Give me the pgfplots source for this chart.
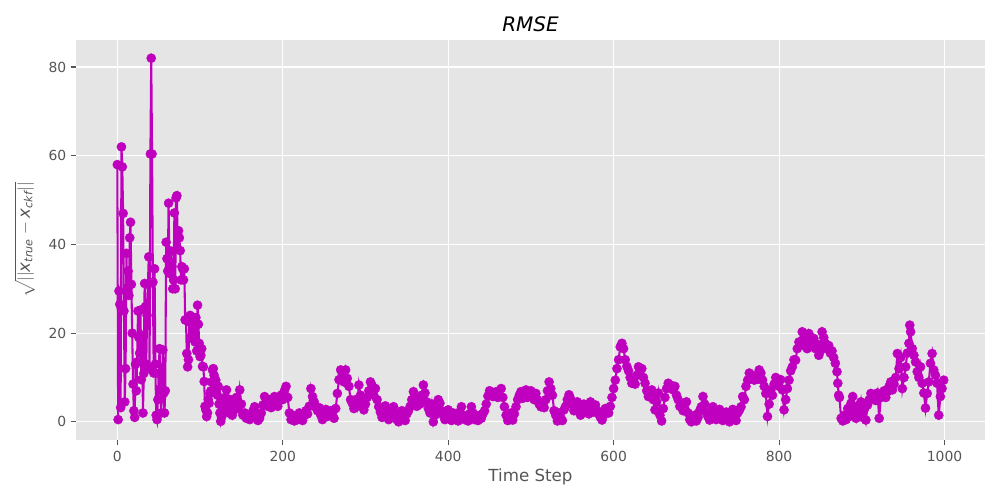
\documentclass[border=0pt]{standalone}
\usepackage{pgfplots}
\pgfplotsset{compat=1.18}
\usepackage{pgfplotstable}
\usepackage{amsmath}
\usepackage{fontspec}
\setmainfont{DejaVu Sans}
\definecolor{mag}{HTML}{BF00BF}
\definecolor{bg}{HTML}{E5E5E5}
\definecolor{txt}{HTML}{555555}
\pgfplotstableread{
x y
0 58
1 0.5
2 29.5
3 26.5
4 3.2
5 62
6 57.5
7 47
8 25
9 4.5
10 12
11 38
12 29
13 34
14 28.5
15 41.5
16 45
17 31
18 20
19 8.5
20 2.5
21 1
22 13
23 7
24 13.5
25 25
26 19
27 15.5
28 25.2
29 9.5
30 19.5
31 2
32 10.9
33 31.2
34 26
35 13
36 24
37 31
38 37.2
39 12
40 60.4
41 82
42 60.4
43 31.5
44 11
45 34.5
46 13
47 1.5
48 0.5
49 5
50 10.9
51 16.5
52 11
53 2
54 7
55 16.2
56 6.4
57 2
58 7
59 40.5
60 36.8
61 34
62 49.3
63 36
64 33.4
65 38.5
66 35
67 30
68 32
69 47.1
70 30
71 50.5
72 51
73 39
74 43.1
75 41.5
76 38.6
77 32
78 35
79 34.5
80 32
81 34.5
82 23
83 22.9
84 15.4
85 12.4
86 14
87 22.5
88 24
89 19
90 23.7
91 21
92 21.4
93 19.5
94 18
95 23.5
96 16
97 26.3
98 22
99 17.7
100 14.7
101 15
102 16.5
103 12.5
104 12.4
105 9.1
106 3.5
107 2.7
108 1.2
109 2
110 5
111 4.2
112 6.4
113 7
114 9
115 11.7
116 12
117 10.5
118 8.5
119 9.4
120 7.2
121 6
122 8
123 4
124 2
125 0.1
126 1
127 3
128 5
129 3.5
130 4.5
131 5.5
132 7.2
133 4
134 3
135 2
136 3.5
137 5
138 2.5
139 1.5
140 2.5
142 4
144 5.5
146 3
148 7.2
150 4
152 1.5
154 2
156 0.8
158 1.2
160 0.5
162 1.5
164 2.5
166 3.4
168 1.5
170 0.3
172 0.8
174 2
176 3.8
178 5.7
180 4.5
182 3.5
184 5
186 3.2
188 4.2
190 5.7
192 4
194 3.5
196 5.2
198 6
200 5
202 7
204 8
206 5.5
208 2
210 0.5
212 1.5
214 0.2
216 1.2
218 0.5
220 2
222 1
224 0.3
226 1.5
228 2.5
230 1.8
232 3.5
234 7.5
236 5.7
238 4.5
240 3.3
242 2.5
244 3.2
246 1.5
248 0.5
250 2
252 2.8
254 1.2
256 1.5
258 2.5
260 1.8
262 0.8
264 3
266 6.4
268 9.5
270 11.7
272 10.5
274 9
276 11.7
278 9.8
280 8
282 5
284 4.2
286 3
288 5
290 3.5
292 8.3
294 6
296 5
298 2.7
300 4
302 5.5
304 7
306 9
308 8.2
310 6
312 7.5
314 5
316 3.4
318 2.2
320 1
322 2.5
324 3.6
326 1.5
328 0.5
330 2.8
332 1.5
334 3.4
336 2
338 0.5
340 0
342 1.5
344 2.5
346 1
348 0.3
350 1.8
352 2.5
354 3.5
356 5
358 6.8
360 4.8
362 3.5
364 5.2
366 4
368 6
370 8.3
372 6.5
374 4.5
376 3
378 2
380 4
382 0
384 1.5
386 3
388 5
390 4.2
392 2.5
394 1.5
396 0.5
398 1.8
400 2.7
402 1.2
404 0.3
406 2
408 0.8
410 1.5
412 0.2
414 2.2
416 3.4
418 1.5
420 0.5
422 1
424 0.2
426 1.8
428 3.4
430 2
432 0.5
434 1.2
436 0.3
438 1.5
440 0.8
442 1.8
444 2.5
446 4
448 5.8
450 7
452 6.2
454 5.7
456 6.5
458 6.8
460 5.5
462 6
464 7.5
466 5.5
468 3.4
470 1.5
472 0.3
474 0.5
476 2
478 0.4
480 1.8
482 3.4
484 5
486 6
488 6.8
490 5.3
492 6.2
494 7.2
496 5.5
498 6.5
500 7
502 6
504 5
506 6.4
508 5
510 4
512 3.4
514 4.2
516 3.2
518 5
520 7
522 9
524 7.5
526 6
528 2.5
530 1.5
532 0.2
534 2
536 1
538 0.3
540 2.7
542 3.5
544 5
546 6.1
548 5.2
550 4
552 2.5
554 3.5
556 4.5
558 2.8
560 1.5
562 3
564 4
566 2.2
568 3.4
570 1.8
572 4.5
574 3
576 2.2
578 3.8
580 2.5
582 1.8
584 1
586 0.4
588 1.5
590 3
592 2.5
594 2
596 3.5
598 5.5
600 7.5
602 9.4
604 12
606 14
608 16.9
610 17.7
612 16.5
614 14
616 12.5
618 11.5
620 10
622 8.7
624 9.5
626 8.5
628 10.5
630 12.4
632 11.5
634 12
636 10
638 8.7
640 7
642 5.7
644 6.5
646 7.2
648 5
650 2.7
652 4.5
654 6.5
656 1.5
658 0.2
660 3
662 5.5
664 7.5
666 8.7
668 7.8
670 8.2
672 7.2
674 8
676 6
678 5
680 3.5
682 4.2
684 2.5
686 3
688 4.5
690 2
692 0.5
694 0
696 0.3
698 1.5
700 0.2
702 1
704 2.5
706 3.4
708 5.7
710 4
712 2
714 1.2
716 0.4
718 2.5
720 3.4
722 1.8
724 0.5
726 1.5
728 2.8
730 1.5
732 0.3
734 1
736 2.2
738 0.5
740 0
742 1.5
744 2.8
746 1.2
748 0.3
750 2
752 2.6
754 3.4
756 5.7
758 5
760 8
762 9.4
764 11
766 9.8
768 10.5
770 9.4
772 10.2
774 9.6
776 11.7
778 11
780 9.4
782 8
784 6.4
786 1.2
788 4
790 7.2
792 6
794 8.5
796 10
798 9
800 8
802 9.5
804 7.2
806 2.7
808 5
810 7.5
812 9.4
814 11.5
816 12.4
818 14
820 13.9
822 16.5
824 18
826 17.5
828 20.3
830 19
832 17
834 16.5
836 19.9
838 18.5
840 17
842 18.8
844 16.5
846 17.5
848 15
850 16
852 20.3
854 19
856 17.7
858 16.5
860 17.2
862 15.5
864 16
866 14.5
868 13.2
870 11.3
871 8.7
872 6
873 5.5
875 0.8
877 0.2
879 1.5
881 0.5
883 3
885 1.2
887 4.2
889 5.7
891 2.5
893 0.8
895 3.5
897 2
899 4.5
901 1
903 2.8
905 0.4
907 3.8
909 5
911 6.4
913 5.2
915 6
917 4.8
919 6.5
921 0.8
923 5.5
925 6.2
927 7
929 5.5
931 6.8
933 8
935 9
937 7.2
939 8.5
941 10
943 15.4
945 12
947 14.5
949 7.5
951 10
953 12.4
955 15.5
957 17.7
958 21.8
959 20.3
961 16.5
963 15
965 13.5
967 11.3
969 10
971 12.4
973 8.7
975 6.5
977 3.1
979 6.4
981 9
983 13.2
985 15.4
987 11.7
989 10.5
991 8.7
993 1.5
995 5.7
997 7.5
999 9.4
}\rmse
\begin{document}
\begin{tikzpicture}
\path[use as bounding box] (0,0) rectangle (720pt,360pt);
\begin{axis}[
  at={(54.72pt,43.2pt)}, anchor=south west,
  scale only axis, width=654.48pt, height=288pt,
  xmin=-49.95, xmax=1048.95, ymin=-4.1, ymax=86.1,
  xtick={0,200,...,1000}, ytick={0,20,...,80},
  axis background/.style={fill=bg},
  axis line style={draw=none},
  grid=major, major grid style={white, line width=0.8pt},
  tick align=outside, major tick length=3.5pt,
  tick style={color=txt, line width=0.8pt},
  xtick pos=lower, ytick pos=left,
  /pgf/number format/assume math mode=true,
  /pgf/number format/1000 sep={},
  ticklabel style={font=\fontsize{10}{12}\selectfont, text=txt},
  xticklabel style={yshift=-1pt},
  title={\itshape RMSE},
  title style={font=\fontsize{14.4}{16}\selectfont, at={(0.5,1)}, anchor=south, yshift=-3.5pt},
  xlabel={Time Step},
  ylabel={$\sqrt{\vert\vert \text{\itshape x}_{\text{\itshape true}} - \text{\itshape x}_{\text{\itshape ckf}}\vert\vert}$},
  label style={font=\fontsize{12}{14}\selectfont, text=txt},
  xlabel style={yshift=2pt},
  ylabel style={yshift=3pt},
]
\addplot[color=mag, line width=1.5pt, mark=*, mark size=3.3pt, mark options={solid, fill=mag, draw=mag, line width=0.3pt}] table[x=x, y=y] {\rmse};
\end{axis}
\end{tikzpicture}
\end{document}
